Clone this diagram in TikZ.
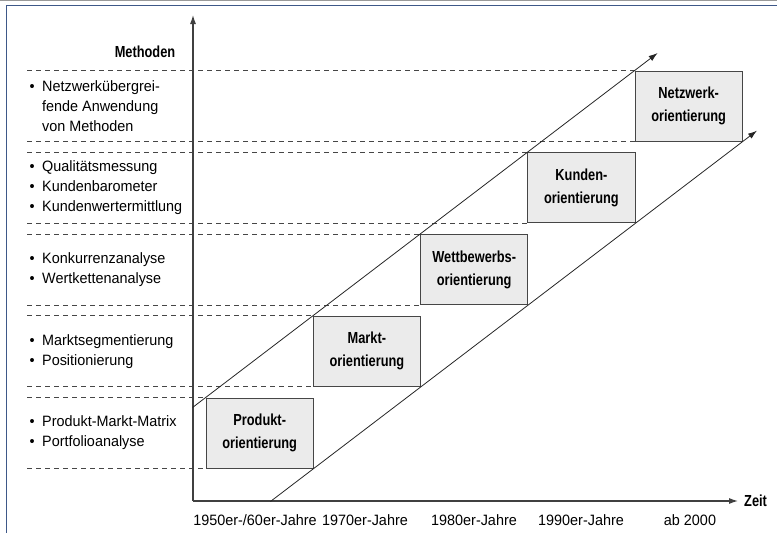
\documentclass[tikz,border=0pt]{standalone}
\usepackage{fontspec}
\setmainfont{Liberation Sans}
\newfontfamily\condbold[FakeStretch=0.8]{Liberation Sans}
\newfontfamily\listfont[FakeStretch=0.96]{Liberation Sans}
\usetikzlibrary{arrows.meta, calc}
\definecolor{framebl}{RGB}{62,88,136}
\definecolor{boxgray}{RGB}{235,235,235}
\definecolor{linegray}{RGB}{70,70,70}
\newcommand{\itm}{\makebox[12.5pt][l]{\textbullet}}
\newcommand{\ind}{\hspace*{12.5pt}}

\begin{document}
\begin{tikzpicture}[x = 1pt, y = -1pt]
\tikzstyle{BoxStyle}=[draw = linegray, fill = boxgray,
                      line width = 0.9pt,
                      minimum width = 107.3pt, minimum height = 70pt,
                      inner sep = 0pt, align = center,
                      font = \condbold\bfseries\fontsize{16}{23}\selectfont]
\tikzstyle{GuideStyle}=[draw = linegray, line width = 0.7pt, dash pattern = on 5pt off 4pt]
\tikzstyle{ListStyle}=[anchor = west, inner sep = 0pt, align = left,
                       font = \listfont\fontsize{15}{19.8}\selectfont]
\tikzstyle{YearStyle}=[inner sep = 0pt, font = \listfont\fontsize{15}{18}\selectfont]
\tikzstyle{TitleStyle}=[inner sep = 0pt, font = \condbold\bfseries\fontsize{16}{18}\selectfont]
\tikzstyle{AxisStyle}=[draw = black!75, line width = 1.1pt, -{Latex[length = 9pt, width = 6pt]}]
\tikzstyle{TrendStyle}=[draw = black!85, line width = 0.8pt, -{Latex[length = 9pt, width = 6pt]}]

\useasboundingbox (0,0) rectangle (777,533);
\draw[black!40, line width = 1pt] (0,0.5) -- (777,0.5);
\draw[framebl, line width = 1.6pt] (6.5,533) -- (6.5,5.5) -- (777,5.5);

\node[BoxStyle] (produkt)   at (259.7, 433)    {Produkt-\\orientierung};
\node[BoxStyle] (markt)     at (366.9, 351.25) {Markt-\\orientierung};
\node[BoxStyle] (wettbew)   at (474.2, 269.5)  {Wettbewerbs-\\orientierung};
\node[BoxStyle] (kunden)    at (581.4, 187.75) {Kunden-\\orientierung};
\node[BoxStyle] (netzwerk)  at (688.7, 106)    {Netzwerk-\\orientierung};

\coordinate (lm) at (27, 0);
\coordinate (lt) at (29.5, 0);
\foreach \b in {produkt, markt, wettbew, kunden, netzwerk}
{
  \draw[GuideStyle] (lm |- \b.north west) -- (\b.north west);
  \draw[GuideStyle] (lm |- \b.south west) -- (\b.south west);
}

\node[TitleStyle] (methoden) at (145, 52) {Methoden};
\node[ListStyle] (netzlist) at (lt |- netzwerk) {\itm Netzwerkübergrei-\\\ind fende Anwendung\\\ind von Methoden};
\node[ListStyle] (kundlist) at (lt |- kunden) {\itm Qualitätsmessung\\\itm Kundenbarometer\\\itm Kundenwertermittlung};
\node[ListStyle] (wettlist) at (lt |- wettbew) {\itm Konkurrenzanalyse\\\itm Wertkettenanalyse};
\node[ListStyle] (marklist) at (lt |- markt) {\itm Marktsegmentierung\\\itm Positionierung};
\node[ListStyle] (prodlist) at (lt |- produkt) {\itm Produkt-Markt-Matrix\\\itm Portfolioanalyse};

\coordinate (origin) at (193, 501);
\coordinate (ytip) at (193, 15);
\coordinate (xtip) at (738, 501);
\draw[AxisStyle] (origin) -- (ytip);
\draw[AxisStyle] (origin) -- (xtip);
\node[TitleStyle, anchor = west] (zeit) at (744, 501) {Zeit};

\coordinate (upS) at ($(produkt.north west)!-0.0303!(netzwerk.north west)$);
\coordinate (upE) at ($(produkt.north west)!1.0536!(netzwerk.north west)$);
\coordinate (loS) at ($(produkt.south east)!-0.101!(netzwerk.south east)$);
\coordinate (loE) at ($(produkt.south east)!1.033!(netzwerk.south east)$);
\draw[TrendStyle] (upS) -- (upE);
\draw[TrendStyle] (loS) -- (loE);

\node[YearStyle] (y50) at (255, 520) {1950er-/60er-Jahre};
\node[YearStyle] (y70) at (365, 520) {1970er-Jahre};
\node[YearStyle] (y80) at (474, 520) {1980er-Jahre};
\node[YearStyle] (y90) at (581, 520) {1990er-Jahre};
\node[YearStyle] (y00) at (690, 520) {ab 2000};
\end{tikzpicture}
\end{document}
